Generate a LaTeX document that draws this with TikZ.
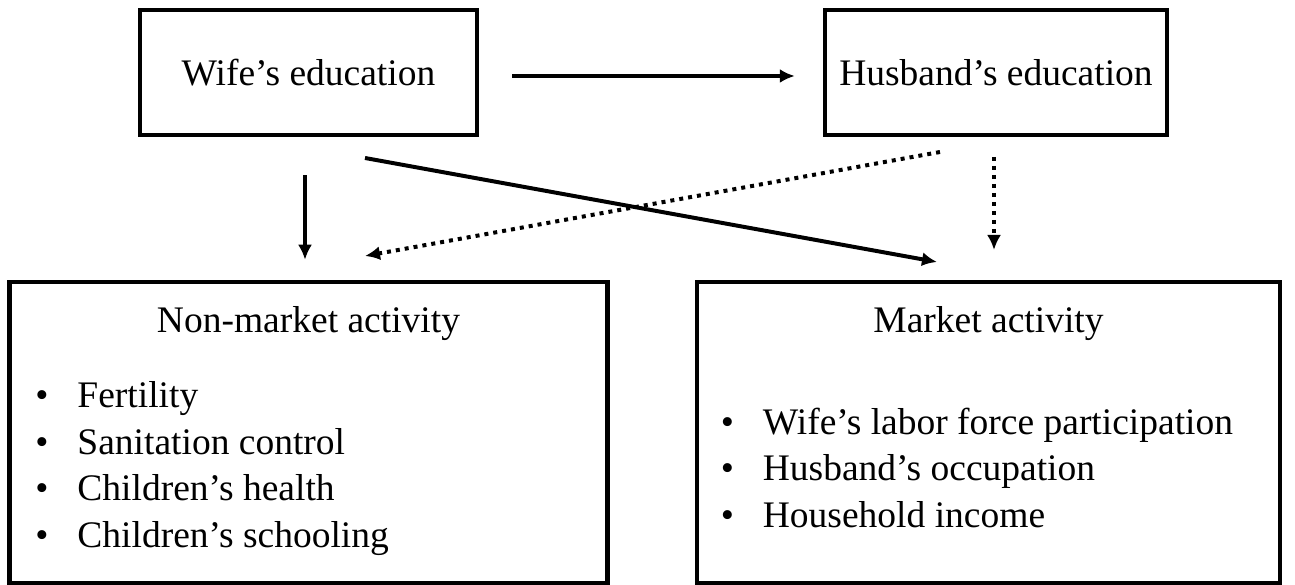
\documentclass[tikz,border=0pt]{standalone}
\usepackage{fontspec}
\setmainfont{Liberation Serif}
\usepackage{tikz}
\usetikzlibrary{arrows.meta, positioning}
\newcommand{\diagfont}{\fontsize{37.5}{46.5}\selectfont}
\newcommand{\bulletitem}[1]{\makebox[42pt][l]{\textbullet}#1}
\begin{document}
\begin{tikzpicture}[x=1pt, y=1pt, box/.style={rectangle, draw, line width=4.5pt, inner sep=0pt, align=center, font=\diagfont}, title/.style={inner sep=0pt, font=\diagfont}, itemlist/.style={inner sep=0pt, align=left, font=\diagfont}, arr/.style={-{Latex[length=15pt, width=14pt]}, line width=4pt}, dotarr/.style={arr, dash pattern=on 4pt off 5pt}]

\useasboundingbox (0,0) rectangle (1295,585);

\node[box, minimum width=337pt, minimum height=125pt] (wife) at (308.5,512.5) {Wife's education};
\node[box, right of=wife, node distance=687.5pt, minimum width=342pt, minimum height=125pt] (husband) {Husband's education};
\node[box, below of=wife, node distance=360pt, minimum width=598pt, minimum height=301pt] (nonmkt) {};
\node[box, minimum width=583pt, minimum height=301pt] (mkt) at (988.5,152.5) {};

\node[title, below=27pt of nonmkt.north] (nonmkttitle) {Non-market activity};
\node[title, below=27pt of mkt.north] (mkttitle) {Market activity};

\node[itemlist, below right=102pt and 28pt of nonmkt.north west] (nonmktlist) {\bulletitem{Fertility}\\ \bulletitem{Sanitation control}\\ \bulletitem{Children's health}\\ \bulletitem{Children's schooling}};
\node[itemlist, below right=128pt and 26pt of mkt.north west] (mktlist) {\bulletitem{Wife's labor force participation}\\ \bulletitem{Husband's occupation}\\ \bulletitem{Household income}};

\coordinate (wifeout) at (365,427);
\coordinate (mktin) at (937,323);
\coordinate (husbout) at (940,433);
\coordinate (nonmktin) at (365,329);
\coordinate (husbdown) at (994,428);
\coordinate (mkttop) at (994,335);

\draw[arr, shorten <=33pt, shorten >=28pt] ([yshift=-3.5pt]wife.east) -- ([yshift=-3.5pt]husband.west);
\draw[arr, shorten <=38pt, shorten >=20pt] ([xshift=-3.5pt]wife.south) -- ([xshift=-3.5pt]wife.south |- nonmkt.north);
\draw[arr] (wifeout) -- (mktin);
\draw[dotarr] (husbout) -- (nonmktin);
\draw[dotarr] (husbdown) -- (mkttop);

\end{tikzpicture}
\end{document}
